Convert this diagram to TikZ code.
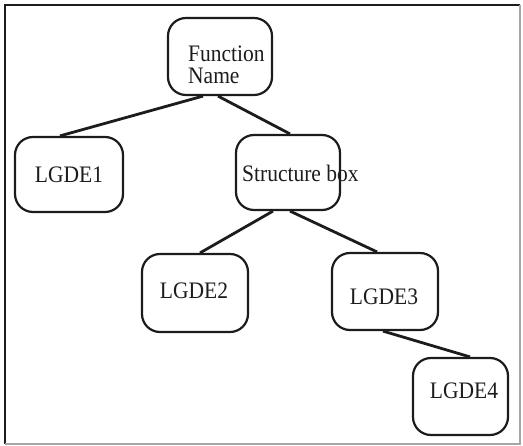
\documentclass[tikz,border=0pt]{standalone}
\usepackage{fontspec}
\setmainfont{Liberation Serif}
\usetikzlibrary{calc}
\definecolor{ink}{HTML}{1C1C1C}
% slightly tall lettering
\newcommand\tallword[1]{\scalebox{1}[1.1]{#1}}
\tikzset{
  box/.style={draw=ink, line width=2.2pt, rounded corners=18pt, inner sep=0pt},
  lbl/.style={inner sep=0pt, text=ink, font=\fontsize{21.5}{22}\selectfont},
  link/.style={draw=ink, line width=2.8pt}
}
\begin{document}
\begin{tikzpicture}[x=1pt,y=-1pt]
  \useasboundingbox (0,0) rectangle (523,446);
  % outer frame
  \draw[ink, line width=2pt] (5,444) -- (5,5.5) -- (520,5.5);
  \draw[black!35, line width=1.2pt] (520,5.5) -- (520,444) -- (5,444);

  % boxes
  \node[box, minimum width=104pt, minimum height=77pt] (fn) at (220,56.5) {};
  \node[box, minimum width=108pt, minimum height=75pt] (g1) at (69,174.5) {};
  \node[box, minimum width=104pt, minimum height=75pt] (sb) at (288,172.5) {};
  \node[box, minimum width=106pt, minimum height=78pt] (g2) at (195,293) {};
  \node[box, minimum width=106pt, minimum height=77pt] (g3) at (385,291.5) {};
  \node[box, minimum width=95pt, minimum height=77pt] (g4) at (460.5,396.5) {};

  % labels
  \node[lbl, align=left, anchor=north west] (fnt) at (188,45.5) {\tallword{Function}\\\tallword{Name}};
  \node[lbl] (g1t) at (69,174.5) {\tallword{LGDE1}};
  \node[lbl, anchor=west] (sbt) at (242,173) {\tallword{Structure box}};
  \node[lbl] (g2t) at (194,290.5) {\tallword{LGDE2}};
  \node[lbl] (g3t) at (384,297) {\tallword{LGDE3}};
  \node[lbl] (g4t) at (464,391) {\tallword{LGDE4}};

  % connectors
  \draw[link] ([xshift=-17pt]fn.south) -- ([xshift=-9pt]g1.north);
  \draw[link] ([xshift=-2pt]fn.south) -- ([xshift=2pt]sb.north);
  \draw[link] ([xshift=-15pt]sb.south) -- ([xshift=5pt]g2.north);
  \draw[link] ([xshift=2pt]sb.south) -- ([xshift=-8pt]g3.north);
  \draw[link] ([xshift=-2pt]g3.south) -- ([xshift=9.5pt]g4.north);
\end{tikzpicture}
\end{document}
